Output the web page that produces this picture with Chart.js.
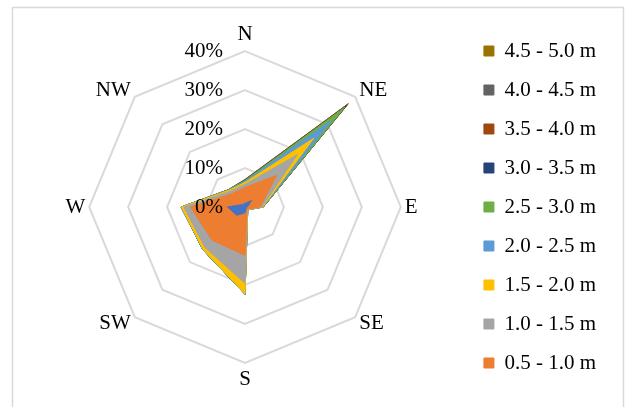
<!DOCTYPE html>
<html>
<head>
<meta charset="utf-8">
<script src="https://cdn.jsdelivr.net/npm/chart.js@4/dist/chart.umd.min.js"></script>
<style>
  html, body { margin: 0; padding: 0; background: #fff; overflow: hidden; }
  canvas { display: block; }
</style>
</head>
<body>
<canvas id="rose" width="627" height="407"></canvas>
<script>
// Wave rose: share of observations (%) per direction, by significant wave height class
const directions = ['N', 'NE', 'E', 'SE', 'S', 'SW', 'W', 'NW'];

const heightClasses = [
  '0.0 - 0.5 m', '0.5 - 1.0 m', '1.0 - 1.5 m', '1.5 - 2.0 m', '2.0 - 2.5 m',
  '2.5 - 3.0 m', '3.0 - 3.5 m', '3.5 - 4.0 m', '4.0 - 4.5 m', '4.5 - 5.0 m'
];

const classColors = [
  '#4472C4', '#ED7D31', '#A5A5A5', '#FFC000', '#5B9BD5',
  '#70AD47', '#264478', '#9E480E', '#636363', '#997300'
];

// frequency (%) of each class, per direction (N, NE, E, SE, S, SW, W, NW)
const h00_05 = [0.9, 2.4, 0.6, 0.4, 1.5, 3.0, 4.5, 0.9];
const h05_10 = [4.1, 9.1, 3.3, 0.3, 10.9, 9.0, 9.5, 3.9];
const h10_15 = [0.8, 7.5, 0.4, 0.2, 7.2, 2.6, 1.7, 0.8];
const h15_20 = [0.5, 6.0, 0.2, 0.1, 2.7, 0.7, 0.6, 0.4];
const h20_25 = [0.3, 6.5, 0.1, 0.0, 0.1, 0.1, 0.1, 0.1];
const h25_30 = [0.2, 4.8, 0.1, 0.0, 0.0, 0.0, 0.0, 0.1];
const h30_35 = [0.1, 0.5, 0.0, 0.0, 0.0, 0.0, 0.0, 0.0];
const h35_40 = [0.1, 0.4, 0.0, 0.0, 0.0, 0.0, 0.0, 0.0];
const h40_45 = [0.0, 0.2, 0.0, 0.0, 0.0, 0.0, 0.0, 0.0];
const h45_50 = [0.1, 0.2, 0.0, 0.0, 0.0, 0.0, 0.0, 0.0];

const classFrequencies = [h00_05, h05_10, h10_15, h15_20, h20_25, h25_30, h30_35, h35_40, h40_45, h45_50];

// radial axis ticks (%)
const radialTicks = [0, 10, 20, 30, 40];

const FONT = '"Liberation Serif", "Times New Roman", serif';

// each ring is the running total up to its class, so the classes stack outwards
const running = directions.map(() => 0);
const datasets = classFrequencies.map((freq, i) => {
  const totals = freq.map((v, d) => (running[d] = +(running[d] + v).toFixed(2)));
  return {
    label: heightClasses[i],
    data: totals,
    backgroundColor: classColors[i],
    borderColor: classColors[i],
    borderWidth: 1,
    pointRadius: 0,
    pointHoverRadius: 0,
    fill: true,
    tension: 0
  };
});

const roseDecor = {
  id: 'roseDecor',
  beforeDraw(chart) {
    const ctx = chart.ctx;
    ctx.save();
    ctx.strokeStyle = '#d9d9d9';
    ctx.lineWidth = 1.5;
    ctx.strokeRect(12.5, 7.5, 611, 460);
    ctx.restore();
  },
  afterDatasetsDraw(chart) {
    const s = chart.scales.r;
    const ctx = chart.ctx;
    ctx.save();
    ctx.font = '21px ' + FONT;
    ctx.fillStyle = '#000';
    ctx.textAlign = 'right';
    ctx.textBaseline = 'middle';
    s.ticks.forEach(t => {
      const d = s.getDistanceFromCenterForValue(t.value);
      ctx.fillText(t.value + '%', s.xCenter - 22, s.yCenter - d);
    });
    ctx.restore();
  }
};

new Chart(document.getElementById('rose'), {
  type: 'radar',
  data: { labels: directions, datasets },
  plugins: [roseDecor],
  options: {
    responsive: false,
    animation: false,
    devicePixelRatio: 1,
    layout: { padding: { top: 22, bottom: 15, left: 26, right: 21 } },
    elements: { line: { tension: 0 } },
    scales: {
      r: {
        min: radialTicks[0],
        max: radialTicks[radialTicks.length - 1],
        startAngle: 0,
        ticks: { display: false, stepSize: radialTicks[1] - radialTicks[0] },
        grid: { color: '#d9d9d9', lineWidth: 2 },
        angleLines: { display: false },
        pointLabels: {
          color: '#000',
          font: { family: FONT, size: 21 },
          // odd indices are the diagonal directions (NE, SE, SW, NW)
          padding: ctx => (ctx.index % 2 === 1 ? -9 : 4),
          callback: (label) => {
            if (label === 'NE' || label === 'SE') return '  ' + label;
            if (label === 'NW' || label === 'SW') return label + '  ';
            return label;
          }
        }
      }
    },
    plugins: {
      tooltip: { enabled: false },
      legend: {
        position: 'right',
        reverse: true,
        labels: {
          color: '#000',
          font: { family: FONT, size: 21 },
          boxWidth: 10,
          boxHeight: 10,
          padding: 18,
          filter: item => item.datasetIndex !== 0
        }
      }
    }
  }
});
</script>
</body>
</html>
